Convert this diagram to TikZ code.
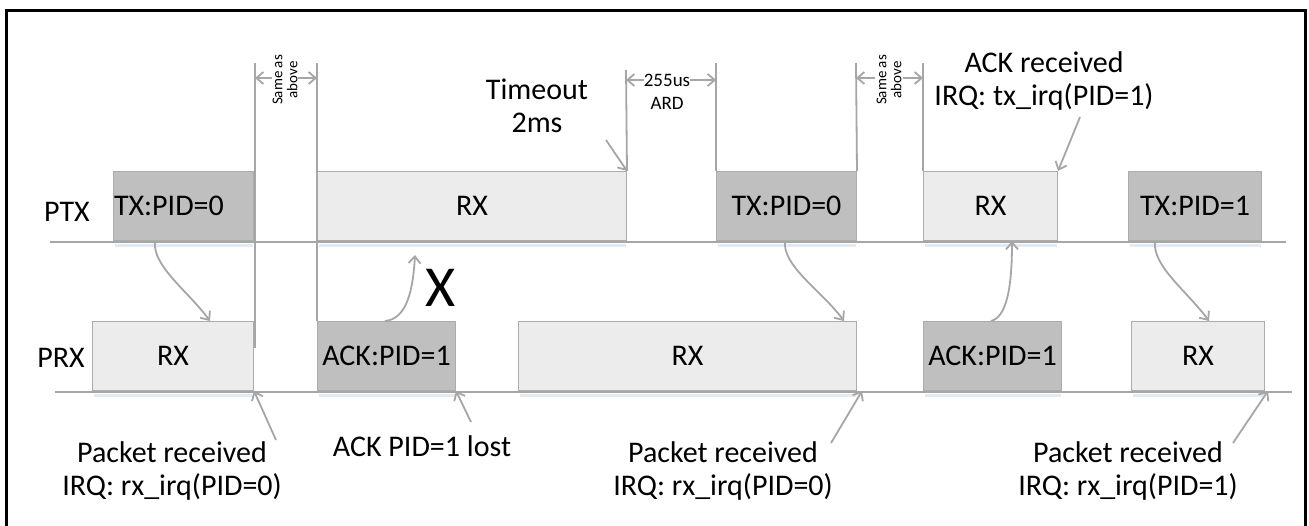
\documentclass[tikz,border=0pt]{standalone}
\usepackage{fontspec}
\setmainfont{Carlito}
\usetikzlibrary{arrows.meta}
\definecolor{dk}{RGB}{191,191,191}
\definecolor{lt}{RGB}{236,236,236}
\definecolor{bd}{RGB}{172,172,172}
\definecolor{ln}{RGB}{166,166,166}
\definecolor{shd}{RGB}{226,234,244}
\tikzset{
  box/.style={draw=bd, line width=1pt, inner sep=0pt, anchor=south west,
    minimum height=69pt, font=\fontsize{30}{34}\selectfont},
  dbox/.style={box, fill=dk},
  lbox/.style={box, fill=lt},
  axisline/.style={draw=ln, line width=2.4pt},
  vline/.style={draw=ln, line width=1.8pt},
  shadowline/.style={draw=shd, line width=3pt},
  arr/.style={draw=ln, line width=1.8pt, -{Straight Barb[length=7pt,width=12pt]}},
  lbl/.style={font=\fontsize{30}{33}\selectfont, align=center, inner sep=0pt},
  small/.style={font=\fontsize{15}{15}\selectfont, align=center, inner sep=0pt},
  mid/.style={font=\fontsize{19}{23}\selectfont, align=center, inner sep=0pt}
}
\begin{document}
\begin{tikzpicture}[x=1pt,y=-1pt]
\useasboundingbox (0,0) rectangle (1309,525);
\fill[white] (0,0) rectangle (1309,525);
% frame
\draw[line width=3pt] (6.5,526) -- (6.5,10) -- (1305.5,10) -- (1305.5,526);

% faint shadows under boxes
\draw[shadowline] (115,245.5) -- (253,245.5);
\draw[shadowline] (319,245.5) -- (626,245.5);
\draw[shadowline] (718,245.5) -- (856,245.5);
\draw[shadowline] (925,245.5) -- (1057,245.5);
\draw[shadowline] (1130,245.5) -- (1261,245.5);
\draw[shadowline] (94,395.5) -- (253,395.5);
\draw[shadowline] (319,395.5) -- (455,395.5);
\draw[shadowline] (520,395.5) -- (856,395.5);
\draw[shadowline] (925,395.5) -- (1061,395.5);
\draw[shadowline] (1133,395.5) -- (1264,395.5);

% PTX boxes
\node[dbox, minimum width=140pt, text width=139pt, align=left] (ptx1) at (113,241) {TX:PID=0};
\node[lbox, minimum width=309pt] (ptxR1) at (317,241) {RX};
\node[dbox, minimum width=140pt] (ptx2) at (716,241) {TX:PID=0};
\node[lbox, minimum width=134pt] (ptxR2) at (923,241) {RX};
\node[dbox, minimum width=133pt] (ptx3) at (1128,241) {TX:PID=1};
% PRX boxes
\node[lbox, minimum width=161pt] (prx1) at (92,391) {RX};
\node[dbox, minimum width=138pt] (prxA1) at (317,391) {ACK:PID=1};
\node[lbox, minimum width=338pt] (prxL) at (518,391) {RX};
\node[dbox, minimum width=138pt] (prxA2) at (923,391) {ACK:PID=1};
\node[lbox, minimum width=133pt] (prx3) at (1131,391) {RX};

% axes
\draw[axisline] (50,242) -- (1286,242);
\draw[axisline] (55,392) -- (1292,392);
\node[lbl] (ptxlab) at (67,212) {PTX};
\node[lbl] (prxlab) at (61,358) {PRX};

% vertical marker lines
\coordinate (v1t) at (255,63);  \coordinate (v1b) at (255,348);
\coordinate (v2t) at (317,63);
\coordinate (v3t) at (626,70);
\coordinate (v4t) at (716,63);
\coordinate (v5t) at (856,63);
\coordinate (v6t) at (923,63);
\draw[vline] (v1t) -- (v1b);
\draw[vline] (v2t) -- (prxA1.north west);
\draw[vline] (v3t) -- (ptxR1.north east);
\draw[vline] (v4t) -- (ptx2.north west);
\draw[vline] (v5t) -- (ptx2.north east);
\draw[vline] (v6t) -- (ptxR2.north west);

% Same as above (1)
\node[small, rotate=90] (sa1) at (285,80) {Same as\\above};
\draw[arr] (272,78) -- (v1t |- 0,78);
\draw[arr] (298,78) -- (v2t |- 0,78);
% Same as above (2)
\node[small, rotate=90] (sa2) at (889,80) {Same as\\above};
\draw[arr] (875,78) -- (v5t |- 0,78);
\draw[arr] (903,78) -- (v6t |- 0,78);
% 255us ARD
\node[mid] (us) at (667,80) {255us};
\node[mid] (ard) at (667,103) {ARD};
\draw[arr] (us.west) -- (v3t |- us.west);
\draw[arr] (us.east) -- (v4t |- us.east);

% Timeout
\node[lbl] (tmo) at (537,106) {Timeout\\2ms};
\coordinate (tmoa) at (606,140);
\draw[arr] (tmoa) -- (ptxR1.north east);

% ACK received
\node[lbl] (ackr) at (1044,81) {ACK received\\IRQ: tx\_irq(PID=1)};
\coordinate (ackra) at (1080,117);
\draw[arr] (ackra) -- (ptxR2.north east);

% packet flows
\draw[arr] ([xshift=42pt]ptx1.south west) .. controls +(-3,25) and +(-22,-30) .. ([xshift=118pt]prx1.north west);
\draw[arr] ([xshift=69pt]ptx2.south west) .. controls +(-3,25) and +(-22,-30) .. ([xshift=326pt]prxL.north west);
\draw[arr] ([xshift=27pt]ptx3.south west) .. controls +(-3,25) and +(-22,-30) .. ([xshift=78pt]prx3.north west);
\draw[arr] ([xshift=68pt]prxA2.north west) .. controls +(16,-4) and +(0,45) .. ([xshift=89pt]ptxR2.south west);
\coordinate (lost) at (415,255);
\draw[arr] ([xshift=68pt]prxA1.north west) .. controls +(22,-2) and +(-2,35) .. (lost);
\node[font=\fontsize{58}{58}\selectfont, inner sep=0pt] (xmark) at (441,288) {X};

% bottom annotations
\node[lbl] (pr1) at (172,471) {Packet received\\IRQ: rx\_irq(PID=0)};
\coordinate (pr1a) at (276,440);
\draw[arr] (pr1a) -- (prx1.south east);
\node[lbl] (lostlab) at (422,446) {ACK PID=1 lost};
\coordinate (losta) at (471,422);
\draw[arr] (losta) -- (prxA1.south east);
\node[lbl] (pr2) at (723,471) {Packet received\\IRQ: rx\_irq(PID=0)};
\coordinate (pr2a) at (831,443);
\draw[arr] (pr2a) -- ([xshift=5pt]prxL.south east);
\node[lbl] (pr3) at (1128,471) {Packet received\\IRQ: rx\_irq(PID=1)};
\coordinate (pr3a) at (1233,443);
\draw[arr] (pr3a) -- ([xshift=3pt]prx3.south east);
\end{tikzpicture}
\end{document}
